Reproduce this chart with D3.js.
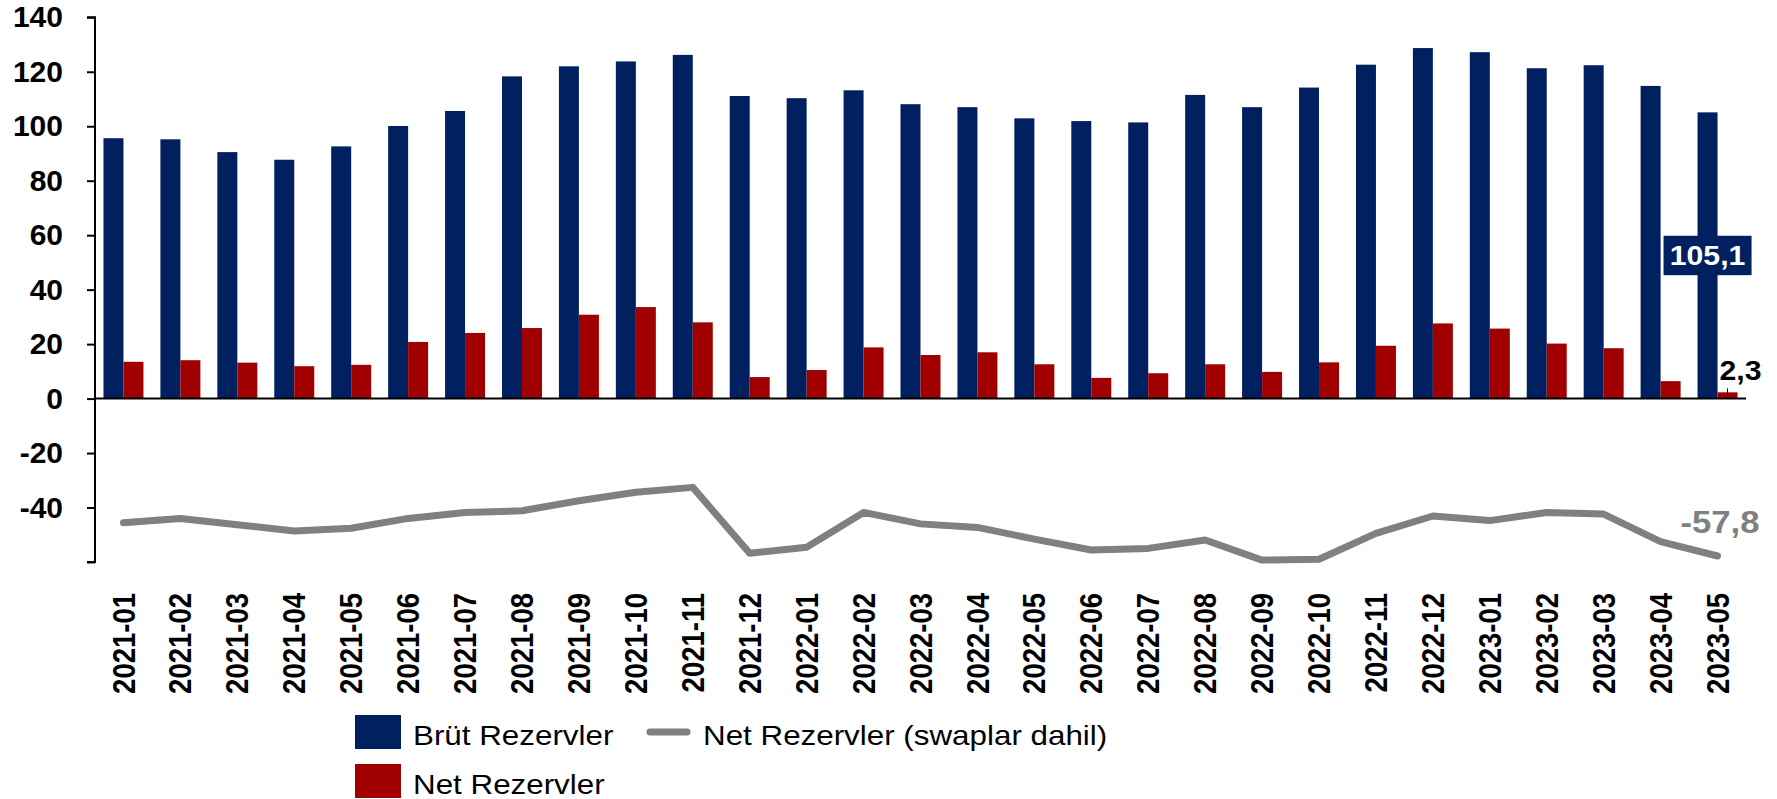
<!DOCTYPE html>
<html>
<head>
<meta charset="utf-8">
<script src="https://cdn.jsdelivr.net/npm/d3@7"></script>
<style>
  html, body { margin: 0; padding: 0; background: #fff; }
  svg { display: block; font-family: "Liberation Sans", Arial, sans-serif; }
</style>
</head>
<body>
<svg id="chart" width="1777" height="799"></svg>
<script>
const categories = ["2021-01","2021-02","2021-03","2021-04","2021-05","2021-06","2021-07","2021-08","2021-09","2021-10","2021-11","2021-12",
  "2022-01","2022-02","2022-03","2022-04","2022-05","2022-06","2022-07","2022-08","2022-09","2022-10","2022-11","2022-12",
  "2023-01","2023-02","2023-03","2023-04","2023-05"];
const brutRezervler = [95.6, 95.2, 90.5, 87.7, 92.6, 100.1, 105.6, 118.3, 122.0, 123.8, 126.2, 111.1,
  110.3, 113.2, 108.1, 107.0, 102.9, 101.9, 101.4, 111.5, 107.0, 114.2, 122.6, 128.7,
  127.2, 121.3, 122.4, 114.8, 105.1];
const netRezervler = [13.5, 14.1, 13.2, 11.9, 12.4, 20.8, 24.1, 25.9, 30.8, 33.6, 28.0, 7.9,
  10.5, 18.8, 16.0, 17.0, 12.6, 7.6, 9.3, 12.6, 9.8, 13.3, 19.4, 27.6,
  25.7, 20.2, 18.5, 6.4, 2.3];
const netSwapDahil = [-45.6, -44.0, -46.3, -48.6, -47.6, -44.0, -41.8, -41.2, -37.5, -34.4, -32.6, -56.8,
  -54.6, -41.8, -46.0, -47.3, -51.6, -55.6, -55.0, -51.9, -59.3, -59.0, -49.5, -43.1,
  -44.8, -41.8, -42.4, -52.5, -57.8];
const yTicks = [-60, -40, -20, 0, 20, 40, 60, 80, 100, 120, 140];
const seriesNames = ["Brüt Rezervler", "Net Rezervler", "Net Rezervler (swaplar dahil)"];

(function () {
const colors = { brut: "#002060", net: "#A00000", line: "#808080" };
const locale = d3.formatLocale({ decimal: ",", thousands: ".", grouping: [3], currency: ["", ""], minus: "-" });
const fmt = locale.format(".1f");
const fmtInt = locale.format("d");
const STRETCH = 1.12;

const svg = d3.select("#chart");
const pL = 95, pR = 1746, pT = 17.3, pB = 562;

const x = d3.scaleBand().domain(categories).range([pL, pR]).paddingInner(0.2975).paddingOuter(0.14875);
const xs = d3.scaleBand().domain(["brut", "net"]).range([0, x.bandwidth()]);
const y = d3.scaleLinear().domain([-60, 140]).range([pB, pT]);

// bars
const g = svg.append("g");
g.selectAll("rect.brut").data(categories).join("rect")
  .attr("class", "brut")
  .attr("x", d => x(d) + xs("brut"))
  .attr("width", xs.bandwidth())
  .attr("y", (d, i) => y(brutRezervler[i]))
  .attr("height", (d, i) => y(0) - y(brutRezervler[i]))
  .attr("fill", colors.brut);
g.selectAll("rect.net").data(categories).join("rect")
  .attr("class", "net")
  .attr("x", d => x(d) + xs("net"))
  .attr("width", xs.bandwidth())
  .attr("y", (d, i) => y(Math.max(0, netRezervler[i])))
  .attr("height", (d, i) => Math.abs(y(0) - y(netRezervler[i])))
  .attr("fill", colors.net);

// zero baseline
svg.append("line")
  .attr("x1", pL).attr("x2", pR)
  .attr("y1", y(0)).attr("y2", y(0))
  .attr("stroke", "#000").attr("stroke-width", 2);

// line series
const line = d3.line()
  .x((d, i) => x(categories[i]) + x.bandwidth() / 2)
  .y(d => y(d));
svg.append("path")
  .datum(netSwapDahil)
  .attr("d", line)
  .attr("fill", "none")
  .attr("stroke", colors.line)
  .attr("stroke-width", 7)
  .attr("stroke-linejoin", "round")
  .attr("stroke-linecap", "round");

// y axis
const yAxis = d3.axisLeft(y).tickValues(yTicks)
  .tickFormat(d => d === -60 ? "" : fmtInt(d))
  .tickSize(8).tickPadding(24);
const ya = svg.append("g").attr("transform", `translate(${pL},0)`).call(yAxis);
ya.select(".domain").attr("stroke", "#000").attr("stroke-width", 2)
  .attr("d", `M-8,${pT}H0V${pB}H-8`);
ya.selectAll(".tick line").attr("stroke", "#000").attr("stroke-width", 2);
ya.selectAll(".tick text")
  .attr("font-size", 30).attr("font-weight", "bold").attr("fill", "#000")
  .attr("font-family", "Liberation Sans, Arial, sans-serif");

// x axis labels
const xa = svg.append("g").attr("transform", `translate(0,${pB})`)
  .call(d3.axisBottom(x).tickSize(0).tickPadding(0));
xa.select(".domain").remove();
xa.selectAll(".tick text")
  .attr("transform", `rotate(-90) scale(1,${STRETCH})`)
  .attr("text-anchor", "end")
  .attr("x", -31)
  .attr("y", 0)
  .attr("dy", "0.36em")
  .attr("font-size", 27.5).attr("font-weight", "bold").attr("fill", "#000")
  .attr("font-family", "Liberation Sans, Arial, sans-serif");

// data labels
const last = categories.length - 1;
const lastCat = categories[last];
const bx = x(lastCat) + xs("brut") + xs.bandwidth() / 2;
const by = (y(brutRezervler[last]) + y(0)) / 2;
const lab = svg.append("g");
lab.append("rect")
  .attr("x", bx - 44).attr("y", by - 19.7)
  .attr("width", 88).attr("height", 39.4)
  .attr("fill", colors.brut);
lab.append("text")
  .attr("transform", `translate(${bx},${by}) scale(${STRETCH},1)`)
  .attr("dy", "0.36em")
  .attr("text-anchor", "middle")
  .attr("font-size", 27).attr("font-weight", "bold").attr("fill", "#fff")
  .text(fmt(brutRezervler[last]));

const nx = x(lastCat) + xs("net") + xs.bandwidth() / 2;
svg.append("line")
  .attr("x1", nx).attr("x2", nx)
  .attr("y1", y(netRezervler[last]) - 4).attr("y2", y(netRezervler[last]) + 3)
  .attr("stroke", "#000").attr("stroke-width", 1);
svg.append("text")
  .attr("transform", `translate(${nx - 8},380) scale(${STRETCH},1)`)
  .attr("font-size", 27).attr("font-weight", "bold").attr("fill", "#000")
  .text(fmt(netRezervler[last]));

const lx = x(lastCat) + x.bandwidth() / 2;
svg.append("text")
  .attr("transform", `translate(${lx + 42},${y(netSwapDahil[last]) - 23}) scale(${STRETCH},1)`)
  .attr("text-anchor", "end")
  .attr("font-size", 31).attr("font-weight", "bold").attr("fill", colors.line)
  .text(fmt(netSwapDahil[last]));

// legend
const lg = svg.append("g").attr("font-size", 28).attr("fill", "#000");
const lgText = (tx, ty, s) => lg.append("text")
  .attr("transform", `translate(${tx},${ty}) scale(${STRETCH},1)`).text(s);
lg.append("rect").attr("x", 355).attr("y", 715).attr("width", 46).attr("height", 34).attr("fill", colors.brut);
lgText(413, 745, seriesNames[0]);
lg.append("rect").attr("x", 355).attr("y", 764).attr("width", 46).attr("height", 34).attr("fill", colors.net);
lgText(413, 794, seriesNames[1]);
lg.append("line").attr("x1", 650).attr("x2", 687).attr("y1", 732).attr("y2", 732)
  .attr("stroke", colors.line).attr("stroke-width", 7).attr("stroke-linecap", "round");
lgText(703, 745, seriesNames[2]);
})();
</script>
</body>
</html>
